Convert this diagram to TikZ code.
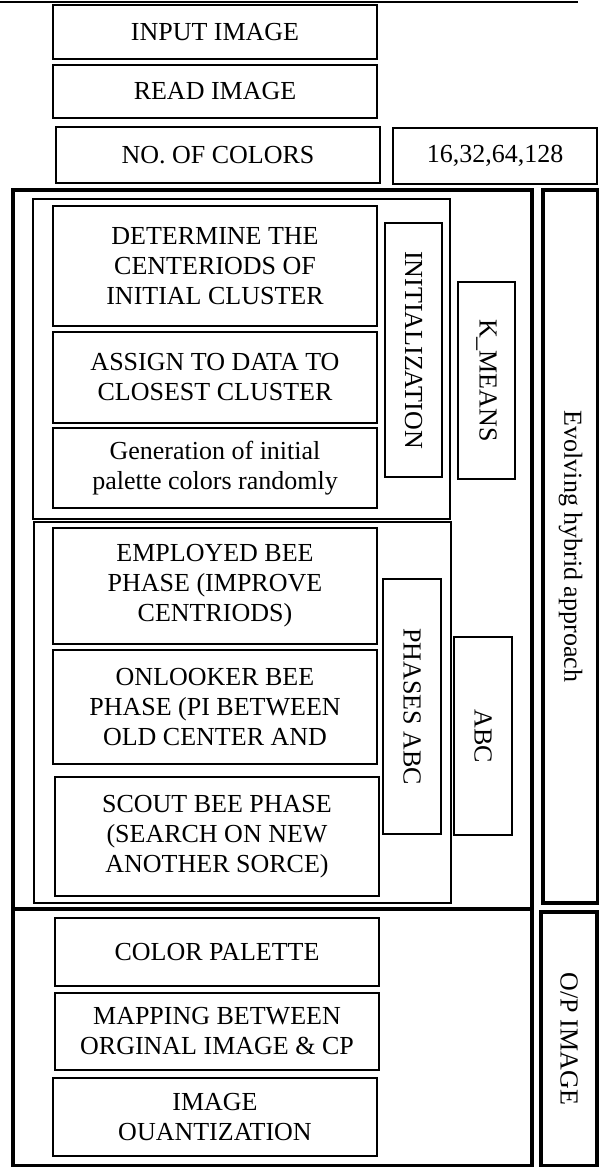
\documentclass[tikz,border=0pt]{standalone}
\usepackage{fontspec}
\setmainfont{Liberation Serif}

\begin{document}
\begin{tikzpicture}[x=0.5pt,y=-0.5pt,
    box/.style={draw,line width=1.3pt,align=center,inner sep=0pt,
                font=\fontsize{13}{15}\selectfont},
    grp/.style={draw,line width=1.1pt,inner sep=0pt},
    frame/.style={draw,line width=2pt,inner sep=0pt},
    side/.style={box,rotate=-90}]
    \useasboundingbox (0,0) rectangle (599,1167);
    % page rule
    \coordinate (ruleL) at (0,2);
    \coordinate (ruleR) at (578,2);
    \draw[line width=1pt] (ruleL)--(ruleR);
    % input part
    \node[box,minimum width=162pt,minimum height=27pt] (input) at (215,32) {INPUT IMAGE};
    \node[box,minimum width=162pt,minimum height=26.5pt] (read) at (215,91.5) {READ IMAGE};
    \node[box,minimum width=162pt,minimum height=28pt] (ncolors) at (218,155) {NO. OF COLORS};
    \node[box,minimum width=102pt,minimum height=28pt] (values) at (495,156) {16,32,64,128};
    % frames
    \node[frame,minimum width=259.5pt,minimum height=359.5pt] (hybrid) at (272.5,549.5) {};
    \node[frame,minimum width=259.5pt,minimum height=128.5pt] (output) at (272.5,1037.5) {};
    \node[grp,minimum width=208.5pt,minimum height=160pt] (kgroup) at (241.5,359) {};
    \node[grp,minimum width=208.5pt,minimum height=190.5pt] (agroup) at (242.5,712.5) {};
    % k-means
    \node[box,minimum width=162pt,minimum height=60pt] (determine) at (215,266)
        {DETERMINE THE\\CENTERIODS OF\\INITIAL CLUSTER};
    \node[box,minimum width=162pt,minimum height=45.5pt] (assign) at (215,377.5)
        {ASSIGN TO DATA TO\\CLOSEST CLUSTER};
    \node[box,minimum width=162pt,minimum height=40pt] (generate) at (215,468)
        {Generation of initial\\palette colors randomly};
    \node[side,minimum width=127pt,minimum height=28.5pt] (init) at (413.5,350) {INITIALIZATION};
    \node[side,minimum width=98.5pt,minimum height=28.5pt] (kmeans) at (486.5,380.5) {K\_MEANS};
    \node[side,line width=2pt,minimum width=356.5pt,minimum height=27.5pt] (evolve) at (570.5,546.5)
        {Evolving hybrid approach};
    % abc
    \node[box,minimum width=162pt,minimum height=58pt] (employed) at (215,586)
        {EMPLOYED BEE\\PHASE (IMPROVE\\CENTRIODS)};
    \node[box,minimum width=162pt,minimum height=57pt] (onlooker) at (215,707)
        {ONLOOKER BEE\\PHASE (PI BETWEEN\\OLD CENTER AND};
    \node[box,minimum width=162pt,minimum height=59.5pt] (scout) at (217,836.5)
        {SCOUT BEE PHASE\\(SEARCH ON NEW\\ANOTHER SORCE)};
    \node[side,minimum width=127.5pt,minimum height=29pt] (phases) at (412,706.5) {PHASES ABC};
    \node[side,minimum width=99pt,minimum height=29pt] (abc) at (483,736) {ABC};
    % output
    \node[box,minimum width=162pt,minimum height=34pt] (palette) at (217,952) {COLOR PALETTE};
    \node[box,minimum width=162pt,minimum height=38.5pt] (mapping) at (217,1031.5)
        {MAPPING BETWEEN\\ORGINAL IMAGE \& CP};
    \node[box,minimum width=162pt,minimum height=39pt] (quant) at (215,1117)
        {IMAGE\\OUANTIZATION};
    \node[side,line width=2pt,minimum width=127pt,minimum height=28pt] (opimage) at (569,1039) {O/P IMAGE};
\end{tikzpicture}
\end{document}
